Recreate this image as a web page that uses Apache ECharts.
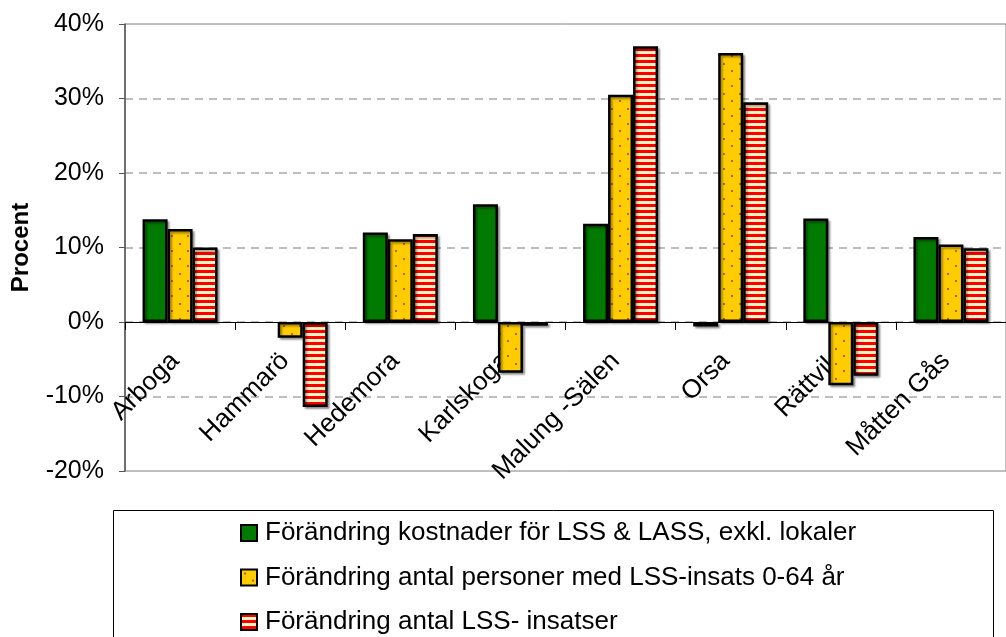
<!DOCTYPE html>
<html>
<head>
<meta charset="utf-8">
<script src="https://cdn.jsdelivr.net/npm/echarts@6/dist/echarts.min.js"></script>
<style>
  html, body { margin: 0; padding: 0; background: #fff; }
  #chart { width: 1006px; height: 637px; }
</style>
</head>
<body>
<div id="chart"></div>
<script>
// Municipalities along the category axis
const categories = ['Arboga', 'Hammarö', 'Hedemora', 'Karlskoga', 'Malung -Sälen', 'Orsa', 'Rättvik', 'Måtten Gås'];

// Percentage change per municipality
const kostnader = [13.8, null, 12.0, 15.8, 13.2, -0.6, 13.9, 11.4];
const personer  = [12.5, -2.1, 11.1, -6.8, 30.5, 36.1, -8.5, 10.4];
const insatser  = [10.0, -11.4, 11.8, -0.5, 37.0, 29.5, -7.2, 9.9];

const seriesNames = [
  'Förändring kostnader för LSS & LASS, exkl. lokaler',
  'Förändring antal personer med LSS-insats 0-64 år',
  'Förändring antal LSS- insatser'
];

const yTicks = { min: -20, max: 40, step: 10 };

// Fill patterns: yellow with small dots, red/cream horizontal stripes
function dotPattern() {
  const c = document.createElement('canvas');
  c.width = 16; c.height = 15;
  const g = c.getContext('2d');
  g.fillStyle = '#FFCC00';
  g.fillRect(0, 0, 16, 15);
  g.fillStyle = '#B0603A';
  g.fillRect(3, 3, 2, 2);
  g.fillRect(11, 10, 2, 2);
  return c;
}
function stripePattern() {
  const c = document.createElement('canvas');
  c.width = 8; c.height = 6;
  const g = c.getContext('2d');
  g.fillStyle = '#FFF4C4';
  g.fillRect(0, 0, 8, 6);
  g.fillStyle = '#FF0000';
  g.fillRect(0, 0, 8, 3);
  return c;
}

const fills = [
  '#007A00',
  { image: dotPattern(), repeat: 'repeat' },
  { image: stripePattern(), repeat: 'repeat' }
];

const font = "'Liberation Sans', Arial, sans-serif";

const chart = echarts.init(document.getElementById('chart'), null, { renderer: 'canvas' });

const barStyle = (fill) => ({
  color: fill,
  borderColor: '#000',
  borderWidth: 2.5,
  shadowColor: 'rgba(0,0,0,0.35)',
  shadowOffsetX: 2,
  shadowOffsetY: 2,
  shadowBlur: 2
});

chart.setOption({
  animation: false,
  backgroundColor: '#fff',
  textStyle: { fontFamily: font },
  grid: {
    left: 125, top: 24, right: -15, bottom: 166, containLabel: false,
    show: true, borderColor: '#808080', borderWidth: 1
  },
  // Frame around the legend
  graphic: [{
    type: 'rect',
    shape: { x: 113.5, y: 510.5, width: 880, height: 200 },
    style: { fill: 'none', stroke: '#000', lineWidth: 1 },
    z: 0
  }],
  legend: {
    orient: 'vertical',
    left: 240,
    top: 520,
    padding: 0,
    itemGap: 18.5,
    itemWidth: 16,
    itemHeight: 16,
    icon: 'rect',
    textStyle: { fontSize: 26, lineHeight: 26, color: '#000', fontFamily: font, padding: [0, 0, 0, 3] },
    data: seriesNames
  },
  xAxis: {
    type: 'category',
    data: categories,
    axisLine: { onZero: true, lineStyle: { color: '#000', width: 1 } },
    axisTick: { show: true, length: 8, lineStyle: { color: '#000' } },
    axisLabel: {
      rotate: 45,
      fontSize: 26,
      color: '#000',
      fontFamily: font,
      interval: 0,
      margin: -119,
      padding: [0, 7, 0, 0]
    }
  },
  yAxis: {
    type: 'value',
    min: yTicks.min,
    max: yTicks.max,
    interval: yTicks.step,
    name: 'Procent',
    nameLocation: 'middle',
    nameGap: 92,
    nameTextStyle: { fontSize: 24, fontWeight: 'bold', color: '#000', fontFamily: font },
    axisLine: { show: true, lineStyle: { color: '#555', width: 1.5 } },
    axisTick: { show: true, length: 6, lineStyle: { color: '#555' } },
    axisLabel: { formatter: '{value}%', fontSize: 25, color: '#000', fontFamily: font, margin: 21 },
    splitLine: {
      show: true,
      showMinLine: false,
      showMaxLine: false,
      lineStyle: { color: '#A8A8A8', type: [8, 6], width: 1.5 }
    }
  },
  series: [
    { name: seriesNames[0], type: 'bar', data: kostnader, barWidth: 25, barGap: '0%', itemStyle: barStyle(fills[0]) },
    { name: seriesNames[1], type: 'bar', data: personer, barWidth: 25, barGap: '0%', itemStyle: barStyle(fills[1]) },
    { name: seriesNames[2], type: 'bar', data: insatser, barWidth: 25, barGap: '0%', itemStyle: barStyle(fills[2]) }
  ]
});
</script>
</body>
</html>
